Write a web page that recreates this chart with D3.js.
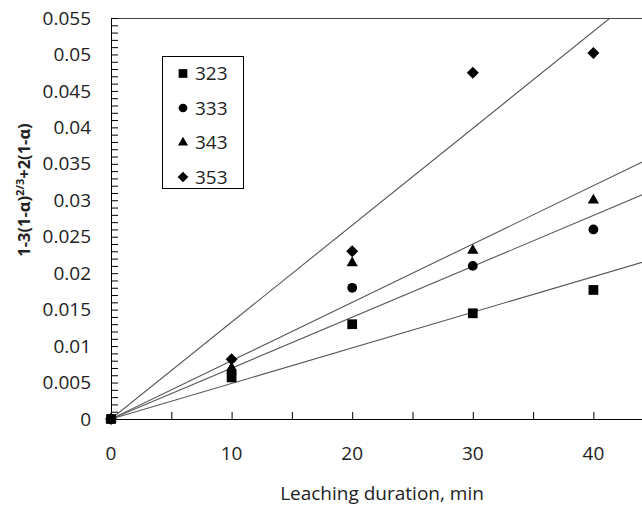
<!DOCTYPE html>
<html><head><meta charset="utf-8">
<script src="https://cdn.jsdelivr.net/npm/d3@7"></script>
<style>body{margin:0;background:#fff}svg{display:block}text{font-family:"Open Sans",sans-serif;fill:#222}</style>
</head><body><svg id="c" width="642" height="510"></svg>
<script>
const durations = [0, 10, 20, 30, 40];
const seriesNames = ["323", "333", "343", "353"];
const values323 = [0, 0.0057, 0.0130, 0.0145, 0.0177];
const values333 = [0, 0.0063, 0.0180, 0.0210, 0.0260];
const values343 = [0, 0.0070, 0.0214, 0.0231, 0.0300];
const values353 = [0, 0.0082, 0.0230, 0.0475, 0.0502];
const fitSlopes = [0.000488, 0.000698, 0.000800, 0.001329];
const xTicks = [0, 10, 20, 30, 40];
const yTicks = [0, 0.005, 0.01, 0.015, 0.02, 0.025, 0.03, 0.035, 0.04, 0.045, 0.05, 0.055];
const allValues = [values323, values333, values343, values353];
const symbols = [d3.symbolSquare, d3.symbolCircle, d3.symbolTriangle, d3.symbolSquare];
const symSizes = [95, 75, 55, 72];
const symRot = [0, 0, 0, 45];

const svg = d3.select("#c");
const x = d3.scaleLinear().domain([0, 44.03]).range([111, 642]);
const y = d3.scaleLinear().domain([0, 0.055]).range([419, 18]);

svg.append("clipPath").attr("id","pc").append("rect").attr("x",111).attr("y",18).attr("width",531).attr("height",401);
const gl = svg.append("g").attr("clip-path","url(#pc)");
fitSlopes.forEach(s => {
  gl.append("line").attr("x1", x(0)).attr("y1", y(0)).attr("x2", x(60)).attr("y2", y(60*s))
    .attr("stroke","#555").attr("stroke-width",1.1);
});

svg.append("line").attr("x1",111).attr("x2",642).attr("y1",18.5).attr("y2",18.5).attr("stroke","#444").attr("stroke-width",1);

const yAxis = d3.axisRight(y).tickValues(d3.range(0, 0.0555, 0.001)).tickSize(7).tickFormat("");
svg.append("g").attr("transform","translate(111,0)").call(yAxis)
  .call(g=>g.select(".domain").attr("stroke","#000"))
  .call(g=>g.selectAll(".tick line").attr("stroke","#000"));
const xAxis = d3.axisTop(x).tickValues(d3.range(0, 45, 5)).tickSize(7).tickFormat("");
svg.append("g").attr("transform","translate(0,419)").call(xAxis)
  .call(g=>g.select(".domain").attr("stroke","#000"))
  .call(g=>g.selectAll(".tick line").attr("stroke","#000"));

svg.append("g").selectAll("text").data(yTicks).join("text")
  .attr("x", 91).attr("y", d => y(d)).attr("dy","0.35em").attr("text-anchor","end")
  .attr("font-size",19).text(d => d3.format("~g")(d));
svg.append("g").selectAll("text").data(xTicks).join("text")
  .attr("x", d => x(d)).attr("y", 453).attr("dy","0.35em").attr("text-anchor","middle")
  .attr("font-size",19).text(d => d);

allValues.forEach((vals, i) => {
  svg.append("g").selectAll("path").data(vals).join("path")
    .attr("transform", (d, j) => `translate(${x(durations[j])},${y(d)}) rotate(${symRot[i]})`)
    .attr("d", d3.symbol().type(symbols[i]).size(symSizes[i])).attr("fill","#000");
});

const lg = svg.append("g");
lg.append("rect").attr("x",162.5).attr("y",56.5).attr("width",81).attr("height",132).attr("fill","#fff").attr("stroke","#000");
seriesNames.forEach((n, i) => {
  const yy = 73.5 + i*34.5;
  lg.append("path").attr("transform",`translate(183,${yy}) rotate(${symRot[i]})`).attr("d", d3.symbol().type(symbols[i]).size(symSizes[i]*0.8)).attr("fill","#000");
  lg.append("text").attr("x",195).attr("y",yy).attr("dy","0.35em").attr("font-size",19).text(n);
});

svg.append("text").attr("x", 382).attr("y", 493).attr("dy","0.35em").attr("text-anchor","middle").attr("font-size",19).text("Leaching duration, min");
const yt = svg.append("text").attr("transform","translate(30,190) rotate(-90)").attr("text-anchor","middle").attr("font-size",16.5).attr("font-weight","bold");
yt.append("tspan").text("1-3(1-α)");
yt.append("tspan").attr("dy",-6).attr("font-size",11).text("2/3");
yt.append("tspan").attr("dy",6).text("+2(1-α)");
</script></body></html>
